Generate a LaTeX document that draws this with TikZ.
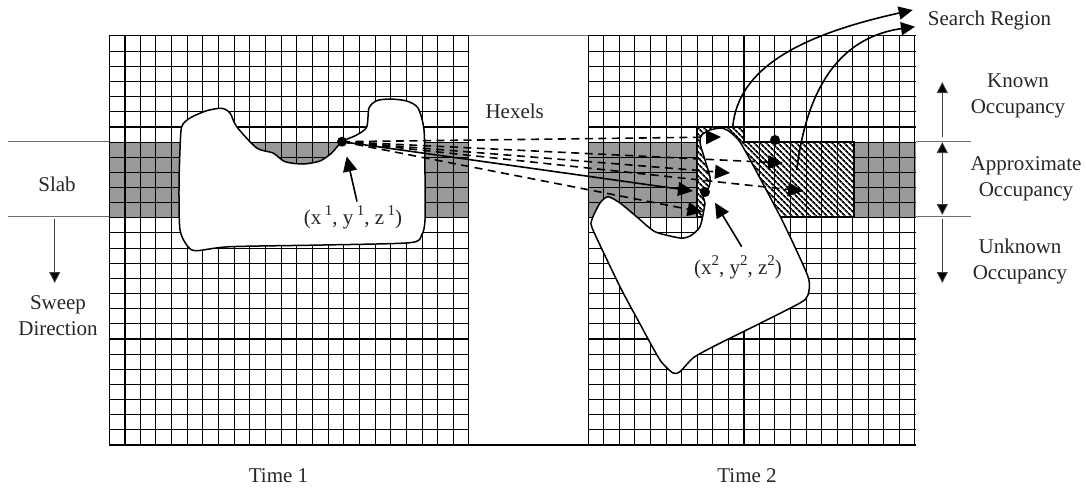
\documentclass[tikz,border=0pt]{standalone}
\usepackage{fontspec}
\setmainfont{Liberation Serif}
\usetikzlibrary{arrows.meta,patterns.meta}
\definecolor{slabgray}{HTML}{999999}
\definecolor{rulegray}{HTML}{6E6E6E}
\newcommand{\supnum}[1]{\raisebox{0.42em}{\fontsize{15}{15}\selectfont #1}}
\tikzset{
  gl/.style={draw=black, line width=1pt},                             % grid line
  gt/.style={draw=black, line width=1.7pt},                           % thick grid line
  rl/.style={draw=rulegray, line width=0.9pt},                        % slab rule
  lb/.style={font=\fontsize{21}{26}\selectfont, text=black!85, align=center, inner sep=0pt},
  pt/.style={circle, fill=black, minimum size=10pt, inner sep=0pt},
  ma/.style={draw=black, line width=1.6pt, -{Triangle[length=15pt,width=14pt]}},             % solid match
  da/.style={draw=black, line width=1.6pt, dash pattern=on 8pt off 5.5pt, -{Triangle[length=15pt,width=14pt]}}, % dashed match
  sa/.style={draw=black, line width=1.6pt, -{Triangle[length=14pt,width=13pt]}},             % search arrow
  ka/.style={draw=black!75, line width=0.9pt, -{Triangle[length=11pt,width=11pt,fill=black]}}, % side arrow
  kd/.style={draw=black!75, line width=0.9pt, {Triangle[length=11pt,width=11pt,fill=black]}-{Triangle[length=11pt,width=11pt,fill=black]}},
  blob/.style={draw=black, line width=1.5pt, fill=white},
}
\begin{document}
\begin{tikzpicture}[x=1pt,y=-1pt]
  \useasboundingbox (0,0) rectangle (1086,487);
  % slabs
  \fill[slabgray] (109,141.5) rectangle (469,217);
  \fill[slabgray] (588,141.5) rectangle (916,217);
  % grids
  \foreach \i in {0,...,27} {
    \draw[gl] (109,36+15.15*\i) -- (469,36+15.15*\i);
    \draw[gl] (588,36+15.15*\i) -- (916,36+15.15*\i);
  }
  \foreach \i in {0,...,23}
    \draw[gl] (109+15.65*\i,36) -- (109+15.65*\i,445);
  \foreach \i in {0,...,21}
    \draw[gl] (588.3+15.55*\i,36) -- (588.3+15.55*\i,445);
  \foreach \y in {127,232.5,339} {
    \draw[gt] (109,\y) -- (469,\y);
    \draw[gt] (588,\y) -- (916,\y);
  }
  \draw[gt] (125,36) -- (125,445);
  \draw[gt] (744,36) -- (744,445);
  \draw[gt] (109,445) -- (916,445);
  \draw[rl] (469,35) -- (588,35);
  % slab rules
  \draw[rl] (8,141) -- (109,141);
  \draw[rl] (8,216.5) -- (109,216.5);
  \draw[rl] (916,141) -- (971,141);
  \draw[rl] (916,216.5) -- (971,216.5);
  % search region hatch
  \filldraw[draw=black, line width=2pt, fill=white]
    (697,127) -- (744,127) -- (744,141.5) -- (854,141.5) -- (854,217) -- (697,217) -- cycle;
  \fill[pattern={Lines[angle=-45,distance=4pt,line width=1.8pt]}]
    (697,127) -- (744,127) -- (744,141.5) -- (854,141.5) -- (854,217) -- (697,217) -- cycle;
  \foreach \i in {11,...,16}
    \draw[gl] (588.3+15.55*\i,141.5) -- (588.3+15.55*\i,217);
  % object at time 1
  \draw[blob] plot[smooth cycle, tension=0.45] coordinates {
    (181.7,126.7) (190,118) (206.7,110.7) (221.7,108.3) (230,113) (236.7,126.7)
    (256.7,148) (273,153) (285,161.7) (303,164) (320,161) (331.7,153) (342,141.7)
    (356.7,135) (366.7,127) (369,108) (376.7,100.7) (390,99) (406.7,101) (418,108)
    (424,130) (425,175) (425,220) (421.7,235) (410,242.7) (323,245) (230,246.7)
    (196.7,250.7) (188,246.7) (180,230) (179,186.7) (180,150)};
  % object at time 2
  \draw[blob] plot[smooth cycle, tension=0.4] coordinates {
    (721.7,128) (730,132) (740,142) (756.7,172) (783,222) (808,276.7) (808,295) (800,303)
    (756.7,325) (713,346.7) (693,358) (680,371.7) (673,373) (660,360) (640,324) (620,286.7)
    (593,230) (591.7,220) (600,203) (608,196.7) (620,203) (637,217) (655,231.7)
    (680,238) (690,236) (700,226.7) (705,203) (703,197) (709,186.7) (710,177) (705,160) (700,143)
    (701.7,135) (710,130)};
  % match points
  \node[pt] (p1) at (342,141.7) {};
  \node[pt] (p2) at (705,192) {};
  \node[pt] (p3) at (775,140) {};
  \coordinate (d1) at (721,137);
  \coordinate (d2) at (783,163);
  \coordinate (d3) at (730,173);
  \coordinate (d4) at (803,191);
  \coordinate (d5) at (702.5,212);
  \coordinate (s1) at (693,191);
  \foreach \t in {d1,d2,d3,d4,d5}
    \draw[da] (p1.center) -- (\t);
  \draw[ma] (p1.center) -- (s1);
  % search region arrows
  \coordinate (r1) at (732.7,127);
  \coordinate (r2) at (796.7,170);
  \coordinate (t1) at (912.7,10);
  \coordinate (t2) at (915,26.7);
  \draw[sa] (r1) .. controls (738,68) and (800,35) .. (t1);
  \draw[sa] (r2) .. controls (806,95) and (835,38) .. (t2);
  % point labels
  \node[lb] (l1) at (353,217) {(x\,\supnum{1}, y\,\supnum{1}, z\,\supnum{1})};
  \node[lb] (l2) at (738,267) {(x\supnum{2}, y\supnum{2}, z\supnum{2})};
  \coordinate (a1) at (346.7,156.5);
  \coordinate (a2) at (715,202.7);
  \draw[ma] (357,201.5) -- (a1);
  \draw[ma] (741.7,246.7) -- (a2);
  % text
  \node[lb] (hex) at (514.7,111) {Hexels};
  \node[lb] (slab) at (57,184) {Slab};
  \node[lb] (sweep) at (58,316) {Sweep\\Direction};
  \node[lb] (srch) at (989.5,20) {Search Region};
  \node[lb] (known) at (1018,96) {Known\\Occupancy};
  \node[lb] (appr) at (1026,179) {Approximate\\Occupancy};
  \node[lb] (unkn) at (1020,261.5) {Unknown\\Occupancy};
  \node[lb] (tm1) at (278.5,475.5) {Time 1};
  \node[lb] (tm2) at (747,475.5) {Time 2};
  % side arrows
  \coordinate (k0) at (942.3,137);
  \coordinate (k1) at (942.3,82);
  \coordinate (k2) at (942.3,142);
  \coordinate (k3) at (942.3,215);
  \coordinate (k4) at (942.3,219);
  \coordinate (k5) at (942.3,283);
  \coordinate (w0) at (54.7,219);
  \coordinate (w1) at (54.7,283);
  \draw[ka] (k0) -- (k1);
  \draw[kd] (k2) -- (k3);
  \draw[ka] (k4) -- (k5);
  \draw[ka] (w0) -- (w1);
\end{tikzpicture}
\end{document}
